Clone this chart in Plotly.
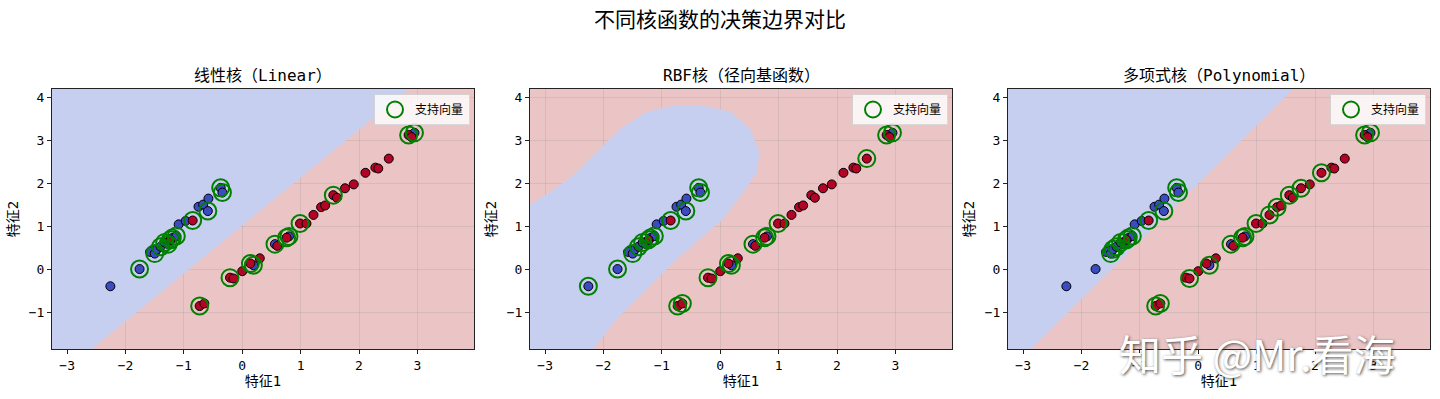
import plotly.graph_objects as go

# ---------------- data ----------------
feat1 = [-2.26, -1.76, -1.58, -1.50, -1.46, -1.40, -1.33, -1.27, -1.20, -1.13,
         -1.09, -0.97, -0.75, -0.67, -0.59, -0.58, -0.37, -0.34, 0.19, 0.56,
         0.80, 2.95,
         -1.23, -0.85, -0.73, -0.65, -0.21, -0.15, 0.00, 0.14, 0.30, 0.60,
         0.76, 0.99, 1.10, 1.22, 1.35, 1.42, 1.56, 1.62, 1.76, 1.91,
         2.11, 2.28, 2.33, 2.51, 2.85, 2.90]
feat2 = [-0.40, 0.00, 0.40, 0.36, 0.46, 0.52, 0.62, 0.58, 0.72, 0.77,
         1.04, 1.12, 1.45, 1.50, 1.35, 1.64, 1.89, 1.78, 0.09, 0.58,
         0.76, 3.17,
         0.68, 1.13, -0.86, -0.80, -0.20, -0.22, -0.05, 0.13, 0.25, 0.54,
         0.73, 1.06, 1.06, 1.26, 1.44, 1.48, 1.72, 1.66, 1.88, 1.97,
         2.24, 2.36, 2.34, 2.57, 3.12, 3.07]
label = [0] * 22 + [1] * 26

sv_linear = [1, 3, 5, 6, 7, 8, 9, 22, 23, 14, 16, 17, 24, 26, 29, 18, 19, 32, 20, 33, 38, 46, 21]
sv_rbf = [0, 1, 3, 5, 6, 8, 9, 22, 23, 14, 16, 17, 24, 25, 26, 29, 18, 19, 32, 20, 33, 45, 46, 21]
sv_poly = [3, 4, 5, 6, 8, 9, 22, 23, 14, 16, 17, 24, 25, 27, 18, 19, 32, 20, 33, 35, 36, 38, 40, 42, 46, 21]

# decision boundaries
lin_bx = [-2.58, 2.85]
lin_by = [-1.86, 4.19]
rbf_bx = [-3.26, -2.91, -2.51, -2.11, -1.71, -1.26, -0.80, -0.29, 0.17, 0.51, 0.67,
          0.63, 0.40, 0.06, -0.40, -0.86, -1.31, -1.77, -2.17]
rbf_by = [1.50, 1.80, 2.19, 2.73, 3.27, 3.66, 3.80, 3.80, 3.66, 3.27, 2.73,
          2.26, 1.80, 1.18, 0.64, 0.09, -0.53, -1.15, -1.86]
poly_bx = [-2.86, 1.62]
poly_by = [-1.86, 4.19]

titles = ["线性核（Linear）", "RBF核（径向基函数）", "多项式核（Polynomial）"]
suptitle = "不同核函数的决策边界对比"
xticks = [-3, -2, -1, 0, 1, 2, 3]
yticks = [-1, 0, 1, 2, 3, 4]
xr = [-3.26, 3.97]
yr = [-1.86, 4.19]

# ---------------- style ----------------
FONT = "DejaVu Sans Mono, Noto Sans CJK SC"
BLUE_BG = "#c6cfef"
RED_BG = "#ebc5c6"
PT_BLUE = "#3b4cc0"
PT_RED = "#b40426"
W, H = 1440, 399

xdoms = [[52 / W, 474 / W], [530 / W, 952 / W], [1008 / W, 1430 / W]]
ydom = [(H - 349) / H, (H - 89) / H]

fig = go.Figure()

pt_colors = [PT_BLUE if c == 0 else PT_RED for c in label]
svsets = [sv_linear, sv_rbf, sv_poly]
shapes = []

def region_path(bx, by, kind):
    pts = list(zip(bx, by))
    if kind == "line":
        pts = pts + [(xr[0] - 1, yr[1] + 1), (xr[0] - 1, yr[0] - 1)]
    else:
        pts = pts + [(xr[0] - 1, yr[0] - 1)]
    return "M " + " L ".join(f"{x},{y}" for x, y in pts) + " Z"

bounds = [(lin_bx, lin_by, "line"), (rbf_bx, rbf_by, "curve"), (poly_bx, poly_by, "line")]

for i in range(3):
    xa = "x" if i == 0 else f"x{i+1}"
    ya = "y" if i == 0 else f"y{i+1}"
    bx, by, kind = bounds[i]
    shapes.append(dict(type="path", path=region_path(bx, by, kind), xref=xa, yref=ya,
                       fillcolor=BLUE_BG, line=dict(width=0), layer="between"))
    fig.add_trace(go.Scatter(
        x=feat1, y=feat2, mode="markers", xaxis=xa, yaxis=ya, showlegend=False,
        marker=dict(size=9, color=pt_colors, line=dict(color="black", width=1)),
        hoverinfo="skip"))
    sv = svsets[i]
    fig.add_trace(go.Scatter(
        x=[feat1[k] for k in sv], y=[feat2[k] for k in sv], mode="markers",
        xaxis=xa, yaxis=ya, name="支持向量",
        legend="legend" if i == 0 else f"legend{i+1}",
        marker=dict(size=17, color="rgba(0,0,0,0)", symbol="circle",
                    line=dict(color="green", width=2))))

layout = dict(
    width=W, height=H, autosize=False,
    plot_bgcolor=RED_BG, paper_bgcolor="white",
    margin=dict(l=0, r=0, t=0, b=0),
    font=dict(family=FONT, size=13, color="black"),
    shapes=shapes,
    annotations=[],
)

axis_common = dict(showline=True, linecolor="#222", linewidth=1, mirror=True,
                   ticks="outside", ticklen=4, tickcolor="#222",
                   showgrid=True, gridcolor="rgba(140,140,140,0.2)", gridwidth=1,
                   zeroline=False, tickfont=dict(size=13))

for i in range(3):
    sfx = "" if i == 0 else str(i + 1)
    layout[f"xaxis{sfx}"] = dict(axis_common, domain=xdoms[i], range=xr, tickvals=xticks,
                                 anchor=f"y{sfx}",
                                 title=dict(text="特征1", font=dict(size=14), standoff=4))
    layout[f"yaxis{sfx}"] = dict(axis_common, domain=ydom, range=yr, tickvals=yticks,
                                 anchor=f"x{sfx}",
                                 title=dict(text="特征2", font=dict(size=14), standoff=6))
    lname = "legend" if i == 0 else f"legend{i+1}"
    layout[lname] = dict(x=xdoms[i][1] - 4 / W, y=ydom[1] - 5 / H,
                         xanchor="right", yanchor="top",
                         bgcolor="rgba(255,255,255,0.8)", bordercolor="rgba(210,210,210,0.8)",
                         borderwidth=1, font=dict(size=12), itemsizing="trace",
                         tracegroupgap=0)
    layout["annotations"].append(dict(
        text=titles[i], x=(xdoms[i][0] + xdoms[i][1]) / 2, y=(H - 75) / H,
        xref="paper", yref="paper", showarrow=False, xanchor="center", yanchor="middle",
        font=dict(size=16)))

layout["annotations"].append(dict(
    text=suptitle, x=0.5, y=(H - 20) / H, xref="paper", yref="paper",
    showarrow=False, xanchor="center", yanchor="middle", font=dict(size=21)))

layout["annotations"].append(dict(
    text="知乎 @Mr.看海", x=1257 / W, y=(H - 352) / H, xref="paper", yref="paper",
    showarrow=False, xanchor="center", yanchor="middle",
    font=dict(size=42, color="white", family="Noto Sans CJK SC",
              shadow="1px 1px 3px rgba(60,60,60,0.9)")))

fig.update_layout(**layout)
fig.write_html("out.html", config={"displayModeBar": False},
               post_script="document.body.style.margin='0';document.body.style.overflow='hidden';")
